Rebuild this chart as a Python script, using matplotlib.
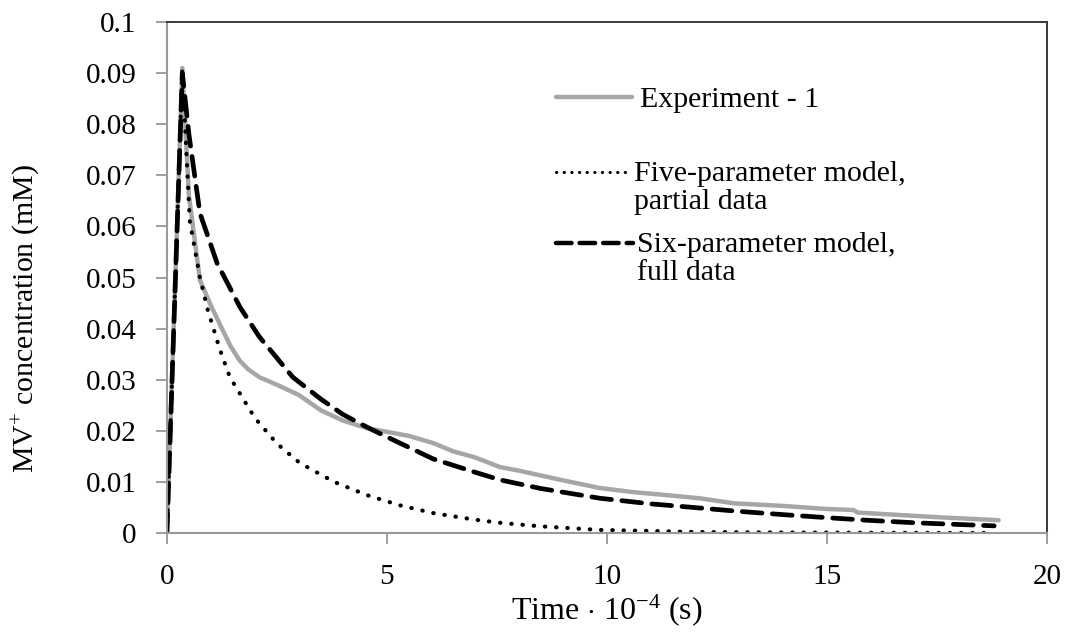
import numpy as np
import matplotlib
matplotlib.use('Agg')
import matplotlib.pyplot as plt

plt.rcParams['font.family'] = ['Liberation Serif', 'DejaVu Serif']
plt.rcParams['mathtext.fontset'] = 'custom'
plt.rcParams['mathtext.rm'] = 'Liberation Serif'
plt.rcParams['mathtext.it'] = 'Liberation Serif:italic'

# Experiment - 1
exp_t = [0, 0.35, 0.5, 0.75, 1.0, 1.25, 1.45, 1.65, 1.85, 2.1, 2.5, 3.0, 3.5, 4.0, 4.55,
         5.0, 5.5, 6.05, 6.5, 7.0, 7.57, 8.0, 9.0, 9.84, 10.6, 11.5, 12.1, 12.9, 14.0,
         15.0, 15.6, 15.7, 16.5, 17.5, 18.9]
exp_c = [0, 0.091, 0.066, 0.0495, 0.0445, 0.040, 0.0365, 0.0338, 0.032, 0.0305, 0.029,
         0.027, 0.024, 0.022, 0.0205, 0.0198, 0.019, 0.0176, 0.016, 0.0148, 0.0129,
         0.0122, 0.0103, 0.0088, 0.0080, 0.0073, 0.0068, 0.0058, 0.0053, 0.0047, 0.0045,
         0.0040, 0.0036, 0.0031, 0.0025]

# five-parameter model, partial data
five_t = [0, 0.35, 0.52, 0.75, 0.93, 1.2, 1.43, 2.0, 2.5, 3.02, 3.8, 4.55, 5.3, 6.05,
          7.0, 7.57, 8.5, 9.84, 11, 12, 14, 16, 18.8]
five_c = [0, 0.091, 0.061, 0.050, 0.0436, 0.036, 0.0305, 0.0225, 0.0175, 0.0137, 0.0100,
          0.0074, 0.0054, 0.0039, 0.0026, 0.0020, 0.0013, 0.0006, 0.0004, 0.0002, 0.0001,
          0.00005, 0.0]

# six-parameter model, full data
six_t = [0, 0.35, 0.5, 0.75, 1.14, 1.66, 2.1, 2.86, 3.5, 4.0, 4.55, 5.0, 6.05, 7.0, 7.57,
         8.5, 9.84, 11.0, 12.1, 12.9, 14.0, 15.0, 15.9, 17.0, 18.8]
six_c = [0, 0.090, 0.078, 0.0626, 0.0528, 0.0442, 0.0384, 0.0305, 0.0262, 0.0232, 0.0207,
         0.0188, 0.0145, 0.0119, 0.0104, 0.0087, 0.0068, 0.0057, 0.0049, 0.0043, 0.0036,
         0.0030, 0.0025, 0.0020, 0.0014]

y_ticks = [0, 0.01, 0.02, 0.03, 0.04, 0.05, 0.06, 0.07, 0.08, 0.09, 0.1]
y_labels = ['0', '0.01', '0.02', '0.03', '0.04', '0.05', '0.06', '0.07', '0.08', '0.09', '0.1']
x_ticks = [0, 5, 10, 15, 20]

fig = plt.figure(figsize=(10.7, 6.34), dpi=100)
ax = fig.add_axes([0.156, 0.1593, 0.8225, 0.806])

ax.plot(exp_t, exp_c, color='#a6a6a6', lw=3.2, solid_capstyle='round')
ax.plot(five_t, five_c, color='black', lw=3, linestyle=(0, (0.1, 2.6)), dash_capstyle='round')
ax.plot(six_t, six_c, color='black', lw=3.4, linestyle=(0, (4.2, 2.2)), dash_capstyle='round')

ax.set_xlim(0, 20)
ax.set_ylim(0, 0.1)
ax.set_xticks(x_ticks)
ax.set_xticklabels([str(v) for v in x_ticks])
ax.set_yticks(y_ticks)
ax.set_yticklabels(y_labels)
ax.tick_params(axis='both', direction='out', length=8, width=1.2, color='#8c8c8c',
               labelsize=21, pad=14)

for s in ['left', 'bottom']:
    ax.spines[s].set_color('#999999')
    ax.spines[s].set_linewidth(1.5)
for s in ['top', 'right']:
    ax.spines[s].set_color('#3a3a3a')
    ax.spines[s].set_linewidth(1.4)

ax.set_xlabel(r'Time $\cdot$ 10$^{-4}$ (s)', fontsize=23, labelpad=2)
ax.set_ylabel(r'MV$^{+}$ concentration (mM)', fontsize=21.5)
ax.yaxis.set_label_coords(-0.142, 0.42)

# legend drawn by hand so the marks line up with the first text line
def px(x, y):
    return (x - 167) / 880.0, (533 - y) / 511.0

tr = ax.transAxes
x0, y0 = px(556, 97)
x1, _ = px(632, 97)
ax.plot([x0, x1], [y0, y0], transform=tr, color='#a6a6a6', lw=3.2, solid_capstyle='round')
tx, ty = px(640, 107)
ax.text(tx, ty, 'Experiment - 1', transform=tr, fontsize=21.5, va='baseline')

x0, y0 = px(556, 172)
x1, _ = px(627, 172)
ax.plot([x0, x1], [y0, y0], transform=tr, color='black', lw=2.2,
        linestyle=(0, (0.1, 2.4)), dash_capstyle='round')
tx, ty = px(634, 181)
ax.text(tx, ty, 'Five-parameter model,', transform=tr, fontsize=21.5, va='baseline')
tx, ty = px(634, 209)
ax.text(tx, ty, 'partial data', transform=tr, fontsize=21.5, va='baseline')

x0, y0 = px(556, 243)
x1, _ = px(633, 243)
ax.plot([x0, x1], [y0, y0], transform=tr, color='black', lw=3.2,
        linestyle=(0, (3.5, 1.8)), dash_capstyle='round')
tx, ty = px(637, 252)
ax.text(tx, ty, 'Six-parameter model,', transform=tr, fontsize=21.5, va='baseline')
tx, ty = px(637, 280)
ax.text(tx, ty, 'full data', transform=tr, fontsize=21.5, va='baseline')

fig.savefig('out.png', dpi=100)
